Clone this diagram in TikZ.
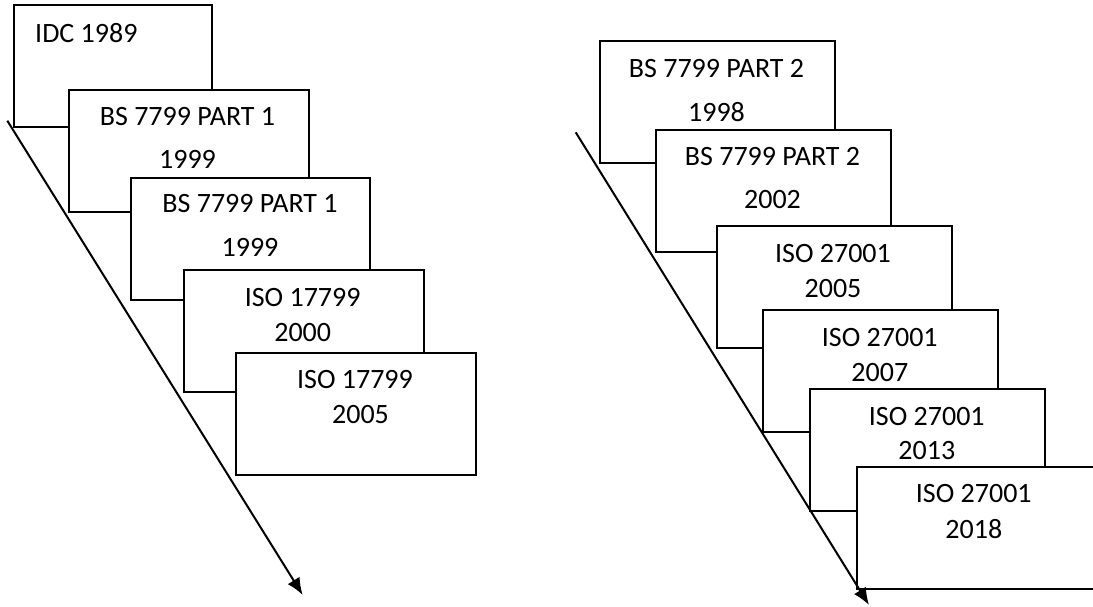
\documentclass[tikz,border=0pt]{standalone}
\usepackage{fontspec}
\setmainfont{Carlito}
\usetikzlibrary{arrows.meta}

\begin{document}
\begin{tikzpicture}[x=1pt, y=-1pt, >={Latex[length=17pt,width=14pt]},
        font=\fontsize{28}{34}\selectfont,
        card/.style={draw, line width=2pt, fill=white, anchor=north west,
            minimum height=122pt, inner sep=0pt},
        lbl/.style={inner sep=0pt}]
        \useasboundingbox (0,0) rectangle (1093,607);

        % --- left column: ISO 17799 line ---
        \node[card, minimum width=198pt] (idc) at (13.3,4.3) {};
        \node[lbl, anchor=west] (idc-t) at (35,33) {IDC 1989};
        \node[card, minimum width=240pt] (bsa) at (67.7,89.3) {};
        \node[lbl] (bsa-t) at (187.5,117) {BS 7799 PART 1};
        \node[lbl] (bsa-y) at (187.5,159) {1999};
        \node[card, minimum width=239pt] (bsb) at (130.3,176.7) {};
        \node[lbl] (bsb-t) at (250,204) {BS 7799 PART 1};
        \node[lbl] (bsb-y) at (250,247) {1999};
        \node[card, minimum width=240pt] (isoa) at (182.7,269.3) {};
        \node[lbl] (isoa-t) at (302.7,298) {ISO 17799};
        \node[lbl] (isoa-y) at (302.7,332.7) {2000};
        \node[card, minimum width=240pt] (isob) at (235,351.7) {};
        \node[lbl] (isob-t) at (355,379.3) {ISO 17799};
        \node[lbl] (isob-y) at (360.5,414.3) {2005};

        % --- right column: ISO 27001 line ---
        \node[card, minimum width=235pt] (bsc) at (599,40) {};
        \node[lbl] (bsc-t) at (716.5,68.3) {BS 7799 PART 2};
        \node[lbl] (bsc-y) at (716.5,111.7) {1998};
        \node[card, minimum width=235pt] (bsd) at (655,129) {};
        \node[lbl] (bsd-t) at (772.5,156.7) {BS 7799 PART 2};
        \node[lbl] (bsd-y) at (772.5,200) {2002};
        \node[card, minimum width=235pt] (isoc) at (715.7,224.7) {};
        \node[lbl] (isoc-t) at (833,253.3) {ISO 27001};
        \node[lbl] (isoc-y) at (833,288.3) {2005};
        \node[card, minimum width=235pt] (isod) at (762.3,308.7) {};
        \node[lbl] (isod-t) at (879.8,337.7) {ISO 27001};
        \node[lbl] (isod-y) at (879.8,372.3) {2007};
        \node[card, minimum width=235pt] (isoe) at (809.3,388.3) {};
        \node[lbl] (isoe-t) at (926.8,416.7) {ISO 27001};
        \node[lbl] (isoe-y) at (926.8,451) {2013};
        \node[card, minimum width=260pt] (isof) at (856,465.7) {};
        \node[lbl] (isof-t) at (973.8,494) {ISO 27001};
        \node[lbl] (isof-y) at (973.8,529.3) {2018};

        % --- time arrows ---
        \coordinate (lstart) at (7.3,120.7);
        \coordinate (lend) at (302.7,595);
        \draw[->, line width=2pt] (lstart) -- (lend);
        \coordinate (rstart) at (575.7,132.3);
        \coordinate (rend) at (869,605);
        \draw[->, line width=2pt] (rstart) -- (rend);
    \end{tikzpicture}
\end{document}
